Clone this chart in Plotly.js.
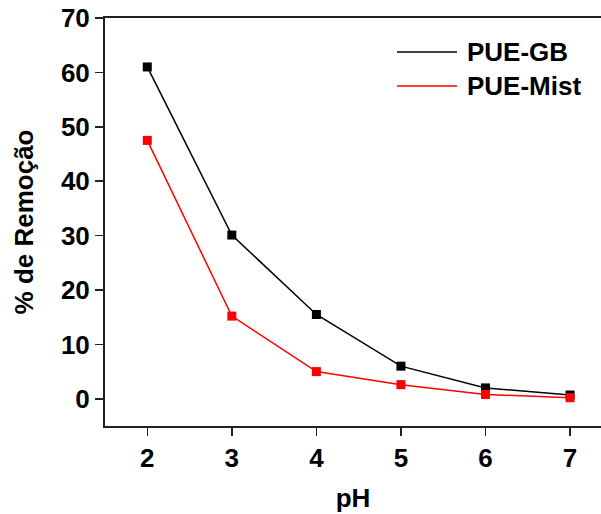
<!DOCTYPE html>
<html>
<head>
<meta charset="utf-8">
<script src="https://cdn.plot.ly/plotly-3.0.1.min.js"></script>
<style>html,body{margin:0;padding:0;background:#fff;overflow:hidden}</style>
</head>
<body>
<div id="chart" style="width:601px;height:514px"></div>
<script>
const pH = [2, 3, 4, 5, 6, 7];
const pueGB = [61.0, 30.1, 15.5, 6.0, 2.0, 0.7];
const pueMist = [47.5, 15.2, 5.0, 2.6, 0.8, 0.2];
const seriesNames = ['PUE-GB', 'PUE-Mist'];
const xTicks = [2, 3, 4, 5, 6, 7];
const yTicks = [0, 10, 20, 30, 40, 50, 60, 70];

const FAM = 'Liberation Sans, Arial, sans-serif';
const FT = {family: FAM, size: 26, color: '#000', weight: 700};
const F = {family: FAM, size: 26, color: '#000', weight: 700};

const traces = [
  {x: pH, y: pueGB, name: seriesNames[0], mode: 'lines+markers', type: 'scatter',
   line: {color: '#000000', width: 1.5}, marker: {symbol: 'square', size: 9, color: '#000000'}, showlegend: false},
  {x: pH, y: pueMist, name: seriesNames[1], mode: 'lines+markers', type: 'scatter',
   line: {color: '#ff0000', width: 1.5}, marker: {symbol: 'square', size: 9, color: '#ff0000'}, showlegend: false}
];

const legY = [0.9167, 0.8333];
const legX0 = 0.5887, legX1 = 0.7097, legTx = 0.7258;
const layout = {
  width: 601, height: 514,
  margin: {l: 105, r: 0, t: 18, b: 88, pad: 0},
  paper_bgcolor: '#fff', plot_bgcolor: '#fff',
  font: F,
  showlegend: false,
  xaxis: {
    range: [1.5, 7.366], tickvals: xTicks, ticktext: xTicks.map(String),
    showgrid: false, zeroline: false, showline: true, linecolor: '#222', linewidth: 2,
    mirror: true, ticks: 'outside', ticklen: 8, tickwidth: 1.5, tickcolor: '#222',
    tickfont: FT, automargin: false,
    title: {text: 'pH', font: F, standoff: 17}
  },
  yaxis: {
    range: [-5, 70], tickvals: yTicks, ticktext: yTicks.map(String),
    showgrid: false, zeroline: false, showline: true, linecolor: '#222', linewidth: 2,
    mirror: false, ticks: 'outside', ticklen: 8, tickwidth: 1.5, tickcolor: '#222',
    tickfont: FT, automargin: false,
    title: {text: '% de Remoção', font: F, standoff: 20}
  },
  shapes: [
    {type: 'line', xref: 'paper', yref: 'paper', x0: legX0, x1: legX1, y0: legY[0], y1: legY[0], line: {color: '#000000', width: 1.5}},
    {type: 'line', xref: 'paper', yref: 'paper', x0: legX0, x1: legX1, y0: legY[1], y1: legY[1], line: {color: '#ff0000', width: 1.5}}
  ],
  annotations: [
    {xref: 'paper', yref: 'paper', x: legTx, y: legY[0], xanchor: 'left', yanchor: 'middle', text: seriesNames[0], showarrow: false, font: F},
    {xref: 'paper', yref: 'paper', x: legTx, y: legY[1], xanchor: 'left', yanchor: 'middle', text: seriesNames[1], showarrow: false, font: F}
  ]
};

Plotly.newPlot('chart', traces, layout, {displayModeBar: false, staticPlot: true});
</script>
</body>
</html>
